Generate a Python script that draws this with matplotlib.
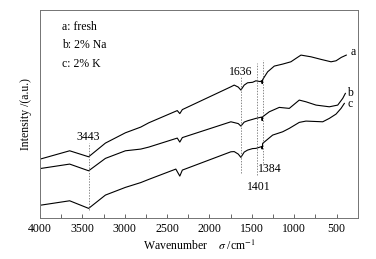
# -*- coding:utf-8 -*-
import numpy as np
import matplotlib
matplotlib.use("Agg")
import matplotlib.pyplot as plt

#--------------------------------
# data
#--------------------------------
wn_a = [3985, 3650, 3426, 3228, 2992, 2811, 2716, 2380, 2350, 2320, 1747, 1708, 1660, 1629, 1590, 1550,
        1491, 1452, 1400, 1384, 1378, 1372, 1313, 1235, 1136, 1039, 979, 920, 802, 683, 565, 506, 444, 385]
ir_a = [59.3, 67.3, 61.3, 75.0, 85.3, 91.0, 95.3, 107.5, 104.5, 108.5, 131.3, 133.0, 131.0, 128.0, 133.0, 135.3,
        135.8, 137.3, 136.5, 137.5, 134.5, 138.5, 146.3, 152.0, 154.0, 156.3, 159.7, 163.0, 161.3, 158.7, 156.3, 157.3, 160.7, 163.0]

wn_b = [3985, 3650, 3426, 3228, 2992, 2811, 2716, 2380, 2350, 2320, 1747, 1708, 1660, 1629, 1590, 1550,
        1452, 1384, 1378, 1372, 1294, 1176, 1058, 940, 861, 742, 585, 486, 427, 396]
ir_b = [49.7, 54.0, 47.3, 59.7, 67.3, 69.0, 71.0, 80.0, 76.0, 80.5, 96.3, 95.5, 94.5, 92.0, 96.0, 97.3,
        99.7, 101.0, 97.5, 101.3, 106.3, 110.7, 109.7, 118.0, 116.3, 113.0, 111.3, 113.0, 119.7, 124.7]

wn_c = [3985, 3650, 3426, 3228, 2992, 2811, 2716, 2397, 2350, 2320, 1747, 1708, 1660, 1629, 1590, 1550,
        1491, 1452, 1384, 1378, 1372, 1254, 1136, 1058, 940, 861, 663, 585, 506, 447, 408]
ir_c = [13.0, 17.3, 9.7, 23.0, 30.7, 35.5, 38.7, 49.0, 42.0, 48.0, 66.3, 66.5, 64.0, 60.7, 66.0, 68.0,
        69.5, 69.7, 71.5, 69.0, 74.7, 83.0, 86.3, 89.7, 95.7, 97.0, 96.3, 99.7, 104.0, 109.7, 114.7]

curve_names = ["a", "b", "c"]
legend_texts = ["a: fresh", "b: 2% Na", "c: 2% K"]

# peak markers: position on the axis, dashed line span, label
peak_pos = [3426, 1629, 1440, 1372]
peak_span = [(8, 75), (45, 141), (43, 155), (55, 158)]
peak_labels = ["3443", "1636", "1401", "1384"]


def main():
    plt.rcParams["font.family"] = ["Liberation Serif", "DejaVu Serif"]
    plt.rcParams["mathtext.fontset"] = "stix"

    fig = plt.figure(figsize=(3.76, 2.59), dpi=100)
    ax = fig.add_axes([0.1064, 0.158, 0.845, 0.803])

    # spectra
    for wn, ir in [(wn_a, ir_a), (wn_b, ir_b), (wn_c, ir_c)]:
        ax.plot(wn, ir, color="black", linewidth=0.8)

    # curve names at the right end
    ax.text(300, 166.0, curve_names[0], fontsize=8.5, va="center", ha="center")
    ax.text(345, 125.5, curve_names[1], fontsize=8.5, va="center", ha="center")
    ax.text(345, 114.5, curve_names[2], fontsize=8.5, va="center", ha="center")

    # dashed peak lines
    for pos, (y0, y1) in zip(peak_pos, peak_span):
        ax.plot([pos, pos], [y0, y1], color="0.35", linestyle=(0, (2, 2)), linewidth=0.5)

    ax.text(3426, 81, peak_labels[0], fontsize=8.5, ha="center", va="center")
    ax.text(1629, 146.3, peak_labels[1], fontsize=8.5, ha="center", va="center")
    ax.text(1416, 31.3, peak_labels[2], fontsize=8.5, ha="center", va="center")
    ax.text(1286, 49, peak_labels[3], fontsize=8.5, ha="center", va="center")

    # legend text
    for i, t in enumerate(legend_texts):
        ax.text(0.068, 0.918 - i * 0.088, t, transform=ax.transAxes,
                fontsize=8.5, ha="left", va="center")

    ax.set_xlim(4000, 250)
    ax.set_ylim(0, 208)
    ax.set_xticks(np.arange(4000, 499, -500))
    ax.set_xticks(np.arange(3750, 499, -500), minor=True)
    ax.tick_params(axis="x", which="both", direction="in", length=2.7,
                   width=0.6, labelsize=8.5, colors="0.3", labelcolor="black")
    ax.set_yticks([])
    for s in ax.spines.values():
        s.set_color("0.45")
        s.set_linewidth(0.7)

    ax.set_xlabel("Wavenumber    $\\sigma$ /cm$^{-1}$", fontsize=8.5, labelpad=3)
    ax.set_ylabel("Intensity /(a.u.)", fontsize=8.5, labelpad=6)

    plt.savefig("out.png", dpi=100)


if __name__ == '__main__':
    main()
